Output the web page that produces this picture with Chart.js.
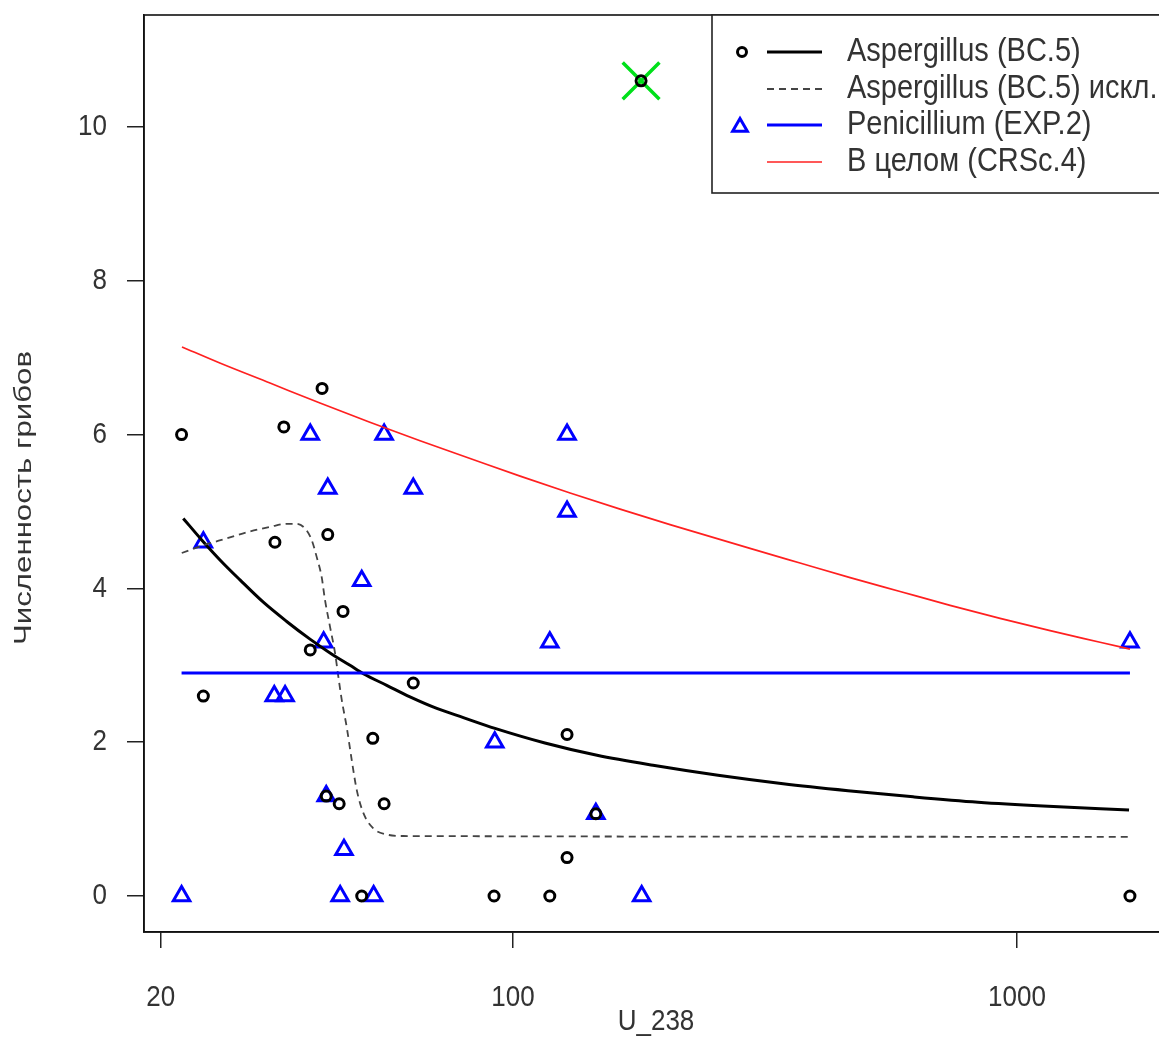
<!DOCTYPE html>
<html><head><meta charset="utf-8">
<script src="https://cdn.jsdelivr.net/npm/chart.js@4.4.0/dist/chart.umd.min.js"></script>
<style>
html,body{margin:0;padding:0;background:#fff;overflow:hidden;width:1159px;height:1037px;}
#wrap{position:absolute;left:0;top:0;width:1200px;height:1037px;}
</style></head><body>
<div id="wrap"><canvas id="c" width="1200" height="1037"></canvas></div>
<script>
// ---- data ----
const aspergillusX = [22.0, 24.3, 33.7, 35.1, 39.6, 41.8, 42.9, 42.6, 45.2, 46.0, 50.1, 52.7, 55.5, 63.4, 91.7, 118.3, 128, 128, 146, 179.5, 1675];
const aspergillusY = [6.0, 2.6, 4.6, 6.1, 3.2, 6.6, 4.7, 1.3, 1.2, 3.7, 0, 2.05, 1.2, 2.77, 0, 0, 2.1, 0.5, 1.07, 10.6, 0];
const penicilliumX = [22.0, 24.3, 33.6, 35.3, 39.6, 42.1, 42.9, 42.6, 45.4, 46.2, 50.1, 52.9, 55.5, 63.4, 92.0, 118.3, 128, 128, 146, 180, 1675];
const penicilliumY = [0, 4.6, 2.6, 2.6, 6.0, 3.3, 5.3, 1.3, 0, 0.6, 4.1, 0, 6.0, 5.3, 2.0, 3.3, 6.0, 5.0, 1.07, 0, 3.3];
const outlierX = [179.5];
const outlierY = [10.6];

const bc5X = [22.17, 24.12, 26.22, 28.73, 31.96, 35.56, 39.56, 43.35, 47.49, 50.47, 56.16, 62.46, 70.6, 79.7, 92.1, 115.7, 146.8, 189.6, 255.1, 343.5, 462.0, 622.0, 836.7, 1126, 1668];
const bc5Y = [4.91, 4.63, 4.37, 4.11, 3.82, 3.57, 3.34, 3.16, 3.00, 2.89, 2.74, 2.59, 2.44, 2.32, 2.18, 1.99, 1.83, 1.70, 1.57, 1.46, 1.37, 1.29, 1.22, 1.17, 1.12];

const bc5ExclX = [22.02, 24.29, 27.04, 30.08, 32.95, 35.56, 37.22, 38.66, 39.86, 40.78, 41.72, 42.36, 43.35, 44.35, 45.03, 45.73, 46.77, 47.86, 48.97, 50.47, 52.82, 56.16, 60.57, 1675];
const bc5ExclY = [4.46, 4.56, 4.65, 4.74, 4.80, 4.84, 4.84, 4.78, 4.63, 4.41, 4.15, 3.85, 3.50, 3.16, 2.85, 2.55, 2.20, 1.77, 1.38, 1.08, 0.88, 0.80, 0.78, 0.77];

const exp2X = [22.0, 1675];
const exp2Y = [2.9, 2.9];

const crscX = [22.04, 26.2, 32.95, 41.4, 52.0, 65.4, 82.2, 103.3, 129.8, 163.1, 204.9, 295.3, 371, 466.5, 586, 736.5, 925.4, 1163, 1461, 1675];
const crscY = [7.14, 6.93, 6.67, 6.41, 6.16, 5.92, 5.69, 5.46, 5.24, 5.03, 4.83, 4.52, 4.33, 4.14, 3.96, 3.78, 3.61, 3.45, 3.30, 3.21];

const xTicks = [20, 100, 1000];
const yTicks = [0, 2, 4, 6, 8, 10];

const seriesLabels = ['Aspergillus (BC.5)', 'Aspergillus (BC.5) искл.', 'Penicillium (EXP.2)', 'В целом (CRSc.4)'];
const xTitle = 'U_238';
const yTitle = 'Численность грибов';

const pts = (xs, ys) => xs.map((x, i) => ({x: x, y: ys[i]}));
const FONT = "'Liberation Sans', Arial, sans-serif";
const STRETCH = 1.15;   // text in the reference is a little taller than wide
const noPad = () => ({left: 0, top: 0, right: 0, bottom: 0});

const framePlugin = {
  id: 'frame',
  beforeDraw(chart) {
    const ctx = chart.ctx;
    if (!ctx._origFillText) {
      ctx._origFillText = ctx.fillText;
      ctx.fillText = function (t, x, y, mw) {
        this.save();
        this.translate(x, y);
        this.scale(1, STRETCH);
        if (mw === undefined) this._origFillText(t, 0, 0); else this._origFillText(t, 0, 0, mw);
        this.restore();
      };
    }
  },
  afterDraw(chart) {
    const ctx = chart.ctx, a = chart.chartArea;
    ctx.save();
    ctx.strokeStyle = '#111';
    ctx.lineWidth = 1.6;
    ctx.strokeRect(a.left, a.top, a.right - a.left, a.bottom - a.top);
    ctx.restore();

    // legend
    ctx.save();
    const lx = 712, ly = a.top, lw = 470, lh = 178;
    ctx.fillStyle = '#fff';
    ctx.fillRect(lx, ly, lw, lh);
    ctx.strokeStyle = '#222';
    ctx.lineWidth = 1.6;
    ctx.strokeRect(lx, ly, lw, lh);
    const rows = [52, 89, 125, 162].map(v => v - 15 + a.top);
    const styles = [
      {pt: 'circle', ptColor: '#000', line: '#000', w: 3, dash: []},
      {pt: null, ptColor: null, line: '#444', w: 1.8, dash: [7, 5]},
      {pt: 'triangle', ptColor: '#0000ff', line: '#0000ff', w: 3, dash: []},
      {pt: null, ptColor: null, line: '#ff2020', w: 1.7, dash: []}
    ];
    rows.forEach((y, i) => {
      const s = styles[i];
      if (s.pt === 'circle') {
        ctx.beginPath();
        ctx.setLineDash([]);
        ctx.strokeStyle = s.ptColor;
        ctx.lineWidth = 3;
        ctx.arc(742, y, 4.5, 0, Math.PI * 2);
        ctx.stroke();
      } else if (s.pt === 'triangle') {
        const r = 8.5, cx = 740, cy = y + 2;
        ctx.beginPath();
        ctx.setLineDash([]);
        ctx.strokeStyle = s.ptColor;
        ctx.lineWidth = 3;
        ctx.moveTo(cx, cy - r);
        ctx.lineTo(cx + r * 0.866, cy + r / 2);
        ctx.lineTo(cx - r * 0.866, cy + r / 2);
        ctx.closePath();
        ctx.stroke();
      }
      ctx.beginPath();
      ctx.strokeStyle = s.line;
      ctx.lineWidth = s.w;
      ctx.setLineDash(s.dash);
      ctx.moveTo(767, y);
      ctx.lineTo(822, y);
      ctx.stroke();
      ctx.setLineDash([]);
    });
    ctx.font = '29px ' + FONT;
    ctx.textAlign = 'left';
    ctx.textBaseline = 'middle';
    ctx.fillStyle = '#333';
    rows.forEach((y, i) => ctx.fillText(seriesLabels[i], 847, y));
    ctx.restore();

    // y title (rotated, stretched along its length)
    ctx.save();
    ctx.fillStyle = '#333';
    ctx.font = '24px ' + FONT;
    ctx.textAlign = 'center';
    ctx.textBaseline = 'middle';
    ctx.translate(24, 498);
    ctx.rotate(-Math.PI / 2);
    ctx.scale(1.3, 1);
    ctx._origFillText(yTitle, 0, 0);
    ctx.restore();

    ctx.fillText = ctx._origFillText;
    delete ctx._origFillText;
  }
};

const lineDs = (label, xs, ys, color, width, dash) => ({
  type: 'scatter', label: label, data: pts(xs, ys), showLine: true,
  borderColor: color, borderWidth: width, borderDash: dash || [],
  pointRadius: 0, pointHoverRadius: 0, fill: false,
  cubicInterpolationMode: 'monotone'
});

new Chart(document.getElementById('c'), {
  type: 'scatter',
  data: {
    datasets: [
      lineDs(seriesLabels[3], crscX, crscY, '#ff2020', 1.7),
      lineDs(seriesLabels[2], exp2X, exp2Y, '#0000ff', 3),
      lineDs(seriesLabels[1], bc5ExclX, bc5ExclY, '#444', 1.8, [7, 5]),
      lineDs(seriesLabels[0], bc5X, bc5Y, '#000', 3),
      {label: 'Aspergillus', data: pts(aspergillusX, aspergillusY), pointStyle: 'circle', pointRadius: 5,
       borderColor: '#000', backgroundColor: 'rgba(0,0,0,0)', borderWidth: 3, showLine: false},
      {label: 'Penicillium', data: pts(penicilliumX, penicilliumY), pointStyle: 'triangle', pointRadius: 9.5,
       borderColor: '#0000ff', backgroundColor: 'rgba(0,0,0,0)', borderWidth: 3, showLine: false},
      {label: 'outlier', data: pts(outlierX, outlierY), pointStyle: 'crossRot', pointRadius: 26,
       borderColor: '#00e01a', backgroundColor: '#00e01a', borderWidth: 3.5, showLine: false}
    ]
  },
  options: {
    responsive: false,
    animation: false,
    devicePixelRatio: 1,
    layout: {autoPadding: false, padding: {left: 0, top: 15, right: 32, bottom: 0}},
    plugins: {legend: {display: false}, tooltip: {enabled: false}},
    scales: {
      x: {
        type: 'logarithmic', min: 18.53, max: 1993,
        afterBuildTicks: s => { s.ticks = xTicks.map(v => ({value: v})); },
        afterFit: s => { s.height = 105; s.paddingLeft = 0; s.paddingRight = 0; s.paddingTop = 0; s.paddingBottom = 0; s.getPadding = noPad; },
        ticks: {callback: v => String(v), font: {family: FONT, size: 26}, color: '#333', padding: 34, maxRotation: 0, autoSkip: false},
        grid: {drawOnChartArea: false, tickLength: 16, color: '#222', lineWidth: 1.5},
        border: {color: '#111', width: 1.5},
        title: {display: true, text: xTitle, font: {family: FONT, size: 26}, color: '#333', padding: {top: 0, bottom: 0}}
      },
      y: {
        min: -0.468, max: 11.456,
        afterBuildTicks: s => { s.ticks = yTicks.map(v => ({value: v})); },
        afterFit: s => { s.width = 144; s.paddingLeft = 0; s.paddingRight = 0; s.paddingTop = 0; s.paddingBottom = 0; s.getPadding = noPad; },
        ticks: {callback: v => String(v), font: {family: FONT, size: 26}, color: '#333', padding: 20},
        grid: {drawOnChartArea: false, tickLength: 17, color: '#222', lineWidth: 1.5},
        border: {color: '#111', width: 1.5}
      }
    }
  },
  plugins: [framePlugin]
});
</script>
</body></html>
